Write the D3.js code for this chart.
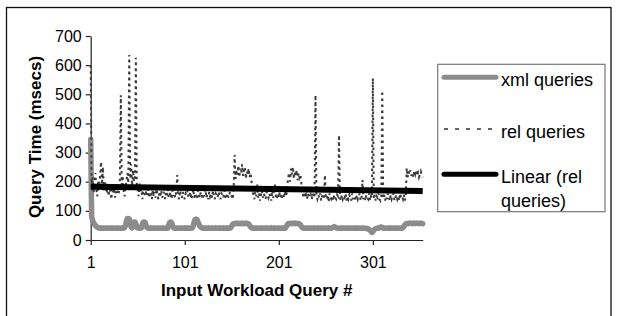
<!DOCTYPE html>
<html>
<head>
<meta charset="utf-8">
<script src="https://cdn.jsdelivr.net/npm/d3@7"></script>
<style>
  body { margin: 0; background: #fff; }
  svg { display: block; font-family: "Liberation Sans", Arial, sans-serif; }
</style>
</head>
<body>
<div id="chart"></div>
<script>
// query time (msecs) per input workload query
const xmlQueries = [
  345, 80, 68, 60, 54, 50, 46, 44, 42, 41,
  42, 40, 41, 42, 40, 41, 40, 42, 41, 40,
  41, 40, 42, 41, 40, 41, 40, 41, 42, 40,
  41, 40, 41, 40, 42, 41, 42, 50, 65, 74,
  74, 72, 60, 45, 42, 55, 62, 62, 56, 44,
  41, 42, 40, 41, 42, 55, 62, 62, 60, 48,
  42, 41, 40, 41, 42, 40, 41, 40, 42, 41,
  40, 41, 42, 40, 41, 40, 42, 41, 40, 41,
  42, 40, 41, 52, 60, 62, 60, 50, 42, 41,
  40, 41, 42, 40, 41, 40, 42, 41, 40, 41,
  42, 40, 41, 42, 40, 41, 40, 42, 41, 48,
  62, 70, 72, 70, 62, 55, 48, 44, 42, 41,
  40, 42, 41, 40, 41, 42, 40, 41, 40, 42,
  41, 40, 41, 42, 40, 41, 40, 42, 41, 40,
  41, 42, 40, 41, 40, 42, 41, 40, 41, 42,
  48, 54, 56, 57, 56, 57, 58, 56, 57, 56,
  57, 58, 56, 57, 56, 58, 57, 56, 55, 50,
  45, 42, 41, 40, 41, 40, 42, 41, 40, 41,
  40, 41, 42, 40, 41, 40, 41, 42, 40, 41,
  40, 41, 42, 40, 41, 42, 40, 41, 40, 41,
  42, 40, 41, 40, 42, 41, 40, 41, 46, 52,
  56, 57, 56, 58, 57, 56, 57, 58, 56, 57,
  56, 57, 55, 52, 46, 42, 41, 40, 42, 41,
  40, 41, 40, 42, 41, 40, 41, 40, 42, 41,
  40, 41, 42, 40, 41, 40, 42, 41, 40, 41,
  40, 41, 40, 42, 41, 40, 41, 42, 44, 46,
  44, 42, 41, 40, 41, 40, 41, 40, 42, 41,
  40, 41, 40, 41, 42, 40, 41, 40, 41, 40,
  41, 40, 42, 41, 40, 41, 40, 41, 40, 41,
  40, 41, 40, 39, 40, 38, 36, 34, 30, 26,
  28, 33, 37, 39, 40, 41, 40, 42, 44, 45,
  43, 41, 40, 41, 40, 41, 40, 41, 42, 40,
  41, 40, 41, 40, 42, 41, 40, 41, 40, 41,
  40, 41, 42, 46, 52, 55, 56, 57, 56, 57,
  58, 57, 56, 57, 58, 56, 57, 58, 57, 56,
  57, 58, 57, 56
];

const relQueries = [
  600, 180, 215, 160, 195, 230, 175, 150, 205, 185,
  220, 268, 190, 250, 170, 200, 185, 160, 195, 150,
  175, 165, 140, 190, 160, 180, 145, 170, 185, 155,
  165, 200, 497, 190, 220, 170, 150, 185, 200, 230,
  195, 635, 210, 260, 185, 240, 200, 215, 625, 180,
  170, 150, 195, 165, 175, 140, 180, 160, 150, 170,
  155, 175, 145, 165, 160, 140, 170, 150, 165, 145,
  175, 155, 140, 160, 150, 170, 145, 155, 165, 140,
  160, 150, 175, 145, 155, 165, 140, 170, 150, 160,
  145, 165, 223, 150, 140, 170, 155, 145, 165, 150,
  140, 160, 155, 170, 145, 150, 165, 140, 155, 175,
  145, 160, 150, 140, 170, 155, 145, 165, 150, 140,
  160, 150, 175, 145, 155, 140, 165, 150, 160, 145,
  170, 150, 140, 160, 155, 145, 165, 150, 140, 160,
  155, 145, 170, 150, 140, 160, 150, 145, 165, 155,
  150, 140, 170, 292, 210, 240, 225, 255, 215, 245,
  230, 260, 220, 240, 250, 210, 235, 225, 245, 215,
  230, 200, 175, 150, 140, 165, 150, 190, 145, 160,
  135, 155, 170, 145, 160, 150, 140, 165, 155, 145,
  160, 150, 135, 170, 145, 155, 190, 150, 140, 160,
  145, 165, 150, 140, 160, 155, 145, 170, 150, 185,
  215, 230, 200, 245, 225, 251, 210, 235, 220, 240,
  205, 230, 215, 225, 195, 175, 150, 160, 145, 155,
  140, 160, 150, 145, 155, 140, 160, 150, 145, 497,
  150, 140, 155, 145, 160, 135, 150, 145, 140, 223,
  150, 140, 155, 130, 160, 145, 140, 150, 135, 155,
  145, 140, 155, 150, 360, 145, 135, 155, 140, 150,
  145, 160, 135, 150, 140, 155, 145, 135, 160, 140,
  150, 145, 135, 155, 140, 150, 160, 135, 145, 206,
  140, 150, 135, 155, 145, 140, 160, 135, 150, 145,
  555, 140, 155, 135, 150, 145, 160, 140, 135, 150,
  512, 145, 155, 135, 150, 140, 160, 145, 135, 155,
  140, 150, 160, 135, 145, 155, 140, 150, 135, 160,
  145, 150, 140, 155, 135, 150, 247, 215, 235, 225,
  240, 220, 230, 215, 235, 225, 240, 220, 230, 215,
  225, 235, 220, 215
];

// Linear (rel queries) trendline, value at first and last query
const linearRel = [183, 168];

const xTicks = [1, 101, 201, 301];
const yTicks = [0, 100, 200, 300, 400, 500, 600, 700];
const legendLabels = ["xml queries", "rel queries", ["Linear (rel", "queries)"]];

let width = 618, height = 316;
let plot = { left: 90.7, right: 422.7, top: 36, bottom: 240 };

let svg = d3.select("#chart")
    .append("svg")
    .attr("width", width)
    .attr("height", height);

// outer frame (runs off the bottom)
svg.append("rect")
    .attr("x", 6.5).attr("y", 7.5)
    .attr("width", 604.5).attr("height", 400)
    .attr("fill", "none")
    .attr("stroke", "#111")
    .attr("stroke-width", 1.3);

let nQ = relQueries.length;
let x = d3.scaleLinear()
    .domain([1, nQ])
    .range([plot.left, plot.right]);
let y = d3.scaleLinear()
    .domain([0, 700])
    .range([plot.bottom, plot.top]);

// axes
let yAxis = svg.append("g")
    .attr("transform", "translate(" + plot.left + ",0)")
    .call(d3.axisLeft(y).tickValues(yTicks).tickSize(5).tickSizeOuter(0).tickPadding(4));
let xAxis = svg.append("g")
    .attr("transform", "translate(0," + plot.bottom + ")")
    .call(d3.axisBottom(x).tickValues(xTicks).tickSize(5).tickSizeOuter(0).tickPadding(12));

[yAxis, xAxis].forEach(function (g) {
    g.select(".domain").attr("stroke", "#222").attr("stroke-width", 1.2);
    g.selectAll(".tick line").attr("stroke", "#222").attr("stroke-width", 1.2);
    g.selectAll(".tick text")
        .attr("fill", "#000")
        .style("font-size", "16px")
        .style("font-family", "'Liberation Sans', Arial, sans-serif");
});

// axis titles
svg.append("text")
    .attr("transform", "rotate(-90)")
    .attr("x", -137)
    .attr("y", 41)
    .attr("text-anchor", "middle")
    .style("font-size", "17px")
    .style("font-weight", "bold")
    .text("Query Time (msecs)");

svg.append("text")
    .attr("x", 256.7)
    .attr("y", 296)
    .attr("text-anchor", "middle")
    .style("font-size", "17px")
    .style("font-weight", "bold")
    .text("Input Workload Query #");

// series
let line = d3.line()
    .x(function (d, i) { return x(i + 1); })
    .y(function (d) { return y(d); });

svg.append("path")
    .datum(xmlQueries)
    .attr("d", line)
    .attr("fill", "none")
    .attr("stroke", "#8c8c8c")
    .attr("stroke-width", 5.5)
    .attr("stroke-linejoin", "round")
    .attr("stroke-linecap", "round");

svg.append("path")
    .datum(relQueries)
    .attr("d", line)
    .attr("fill", "none")
    .attr("stroke", "#3a3a3a")
    .attr("stroke-width", 2)
    .attr("stroke-dasharray", "2.5,3.5");

svg.append("line")
    .attr("x1", x(1)).attr("y1", y(linearRel[0]))
    .attr("x2", x(nQ)).attr("y2", y(linearRel[1]))
    .attr("stroke", "#000")
    .attr("stroke-width", 6);

// legend
let legend = svg.append("g");
legend.append("rect")
    .attr("x", 437.7).attr("y", 64.3)
    .attr("width", 167.3).attr("height", 147.4)
    .attr("fill", "#fff")
    .attr("stroke", "#777")
    .attr("stroke-width", 1.2);

let legendStyles = [
    { stroke: "#8c8c8c", width: 5, dash: null, cy: 77.3 },
    { stroke: "#333", width: 1.5, dash: "4,7", cy: 129 },
    { stroke: "#000", width: 5, dash: null, cy: 174.3 }
];
legendStyles.forEach(function (s, i) {
    legend.append("line")
        .attr("x1", 444).attr("x2", 496)
        .attr("y1", s.cy).attr("y2", s.cy)
        .attr("stroke", s.stroke)
        .attr("stroke-width", s.width)
        .attr("stroke-linecap", s.dash ? "butt" : "round")
        .attr("stroke-dasharray", s.dash);
    let lbl = legendLabels[i];
    let t = legend.append("text")
        .attr("x", 501)
        .attr("y", s.cy + 8.5)
        .style("font-size", "18px");
    if (Array.isArray(lbl)) {
        lbl.forEach(function (part, k) {
            t.append("tspan")
                .attr("x", 501)
                .attr("dy", k === 0 ? 0 : 24)
                .text(part);
        });
    } else {
        t.text(lbl);
    }
});
</script>
</body>
</html>
